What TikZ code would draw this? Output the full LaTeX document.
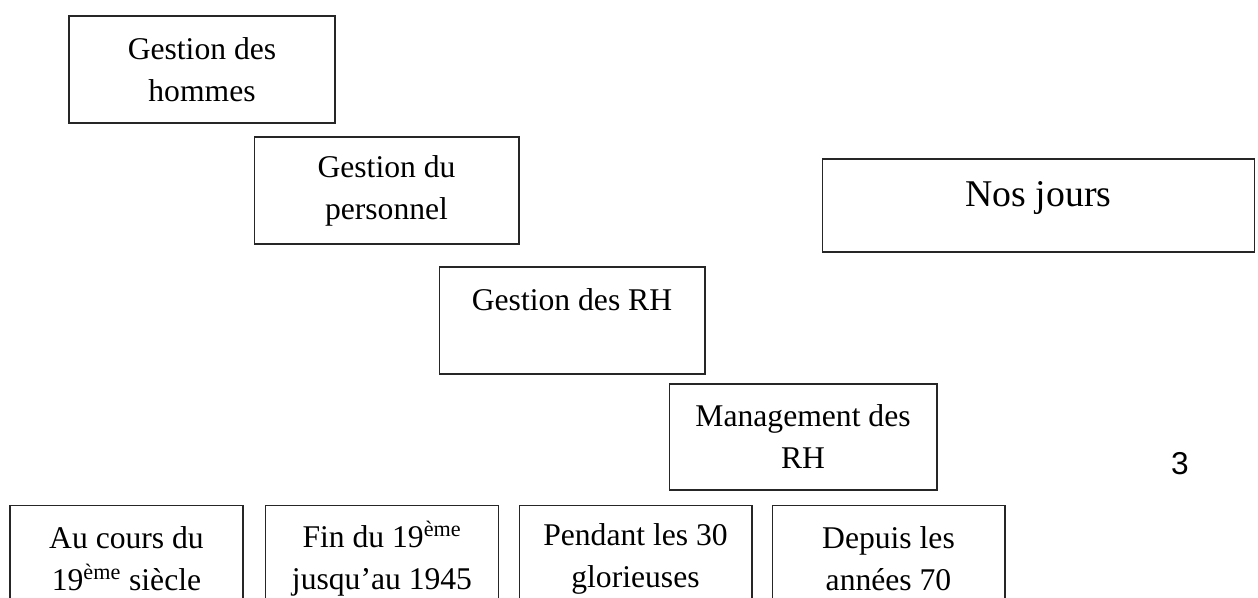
\documentclass[tikz,border=0pt]{standalone}
\usepackage{fontspec}
\setmainfont{Liberation Serif}
\newfontfamily\chiffre{Liberation Sans}
\usepackage{tikz}

\begin{document}
\begin{tikzpicture}[x=0.02cm,y=-0.02cm]
				\tikzstyle{every node}+=[inner sep=0pt]
				\tikzstyle{boite}=[draw=black!85, line width=0.6pt, rectangle, align=center, minimum width=5.32cm, minimum height=2.14cm, font=\fontsize{18}{23.9}\selectfont]
				\tikzstyle{periode}=[boite, minimum width=4.66cm]
				\useasboundingbox (0,0) rectangle (1258,598);
				% les etapes
				\node [boite] (hommes) at (202,69.5) {Gestion des\\hommes};
				\node [boite, minimum width=5.30cm] (personnel) at (386.5,190.5) {Gestion du\\personnel};
				\node [boite] (gestrh) at (572,320.5) {Gestion des RH\\\mbox{}};
				\node [boite, minimum width=5.36cm, minimum height=2.12cm] (mgtrh) at (803,437) {Management des\\RH};
				\node [boite, minimum width=8.66cm, minimum height=1.86cm, text height=0.5cm, text depth=0.48cm, font=\fontsize{21.5}{26}\selectfont] (nosjours) at (1038.5,205.5) {Nos jours};
				\node [font=\chiffre\fontsize{18}{21}\selectfont] (numero) at (1180,464) {3};
				% les periodes
				\node [periode] (periode1) at (126.5,559) {Au cours du\\19\textsuperscript{ème} siècle};
				\node [periode] (periode2) at (382,559) {Fin du 19\textsuperscript{ème}\\jusqu’au 1945};
				\node [periode] (periode3) at (635.5,559) {Pendant les 30\\glorieuses};
				\node [periode] (periode4) at (888.5,559) {Depuis les\\années 70};
\end{tikzpicture}
\end{document}
